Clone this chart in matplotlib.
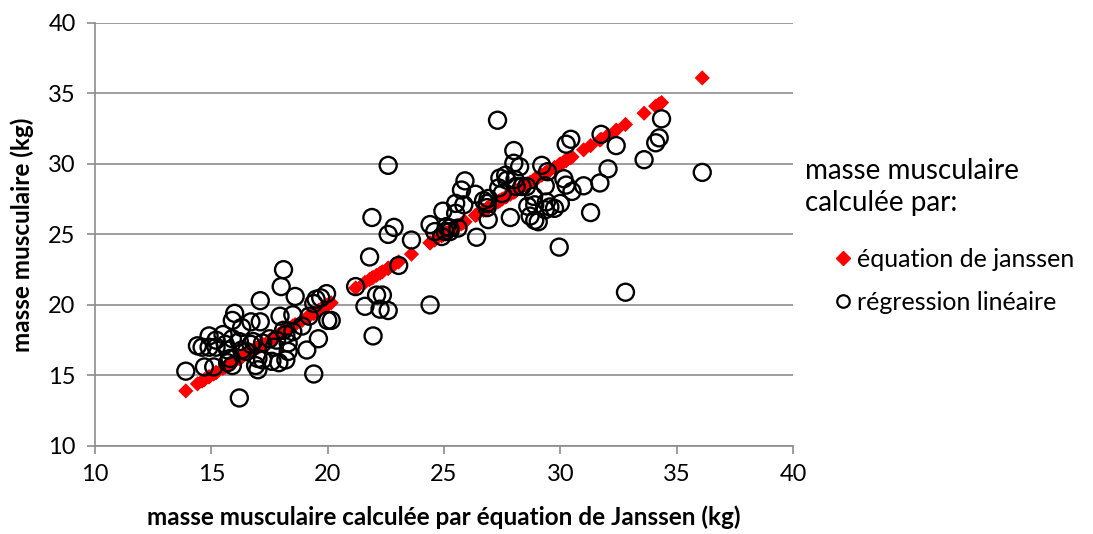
import numpy as np
import matplotlib.pyplot as plt
from matplotlib.lines import Line2D

# masse musculaire calculée par équation de Janssen (kg)
janssen = [13.9, 14.4, 14.6, 14.7, 14.9, 14.9, 15.1, 15.2, 15.2, 15.5,
           15.6, 15.7, 15.7, 15.8, 15.9, 15.9, 15.9, 16.0, 16.2, 16.2,
           16.3, 16.3, 16.5, 16.7, 16.7, 16.8, 16.9, 17.0, 17.0, 17.1,
           17.1, 17.2, 17.2, 17.5, 17.6, 17.7, 17.8, 17.9, 17.95, 18.1,
           18.0, 18.1, 18.2, 18.2, 18.3, 18.3, 18.5, 18.5, 18.6, 18.9,
           19.1, 19.2, 19.4, 19.4, 19.5, 19.6, 19.7, 19.95, 20.0, 20.15,
           21.2, 21.6, 21.8, 21.9, 21.95, 22.1, 22.25, 22.35, 22.6, 22.6,
           22.6, 22.85, 23.05, 23.6, 24.4, 24.4, 24.6,
           24.9, 24.95, 25.05, 25.1, 25.25, 25.25, 25.5, 25.5, 25.6, 25.75,
           25.85, 25.9, 26.35, 26.4, 26.7, 26.85, 26.85, 26.9, 26.9, 27.3,
           27.35, 27.4, 27.5, 27.65, 27.7, 27.85, 28.0, 28.0, 28.05, 28.1,
           28.25, 28.35, 28.55, 28.6, 28.7, 28.85, 28.9, 28.9, 29.05, 29.2,
           29.35, 29.35, 29.4, 29.45, 29.55, 29.75, 29.95, 30.0, 30.15, 30.25,
           30.25, 30.45, 30.5,
           31.0, 31.3, 31.7, 31.75, 32.05, 32.4, 32.8, 33.6, 34.1, 34.25,
           34.35, 36.1]

# masse musculaire par régression linéaire (kg)
regression = [15.3, 17.1, 17.0, 15.6, 17.0, 17.8, 15.6, 17.5, 17.0, 17.9,
              17.2, 16.8, 15.9, 16.2, 15.7, 17.6, 18.9, 19.4, 17.4, 13.4,
              18.4, 16.8, 16.7, 18.8, 17.2, 17.4, 15.7, 15.4, 16.2, 20.3,
              18.8, 17.3, 16.1, 17.6, 16.0, 17.0, 17.5, 15.9, 19.2, 22.5,
              21.3, 18.2, 16.1, 17.9, 16.7, 17.3, 19.3, 18.1, 20.6, 18.5,
              16.8, 19.2, 15.1, 20.1, 20.4, 17.6, 20.5, 20.8, 18.9, 18.9,
              21.3, 19.9, 23.4, 26.2, 17.8, 20.7, 19.7, 20.7, 19.6, 29.9,
              25.0, 25.5, 22.8, 24.6, 20.0, 25.7, 25.2,
              24.85, 26.65, 25.2, 25.55, 25.2, 25.45, 26.5, 27.2, 25.45, 28.15,
              27.1, 28.8, 27.85, 24.8, 27.4, 26.9, 27.2, 27.55, 26.05, 33.1,
              28.3, 29.0, 27.9, 29.2, 28.85, 26.2, 30.95, 30.05, 28.9, 28.4,
              29.8, 28.4, 28.4, 27.0, 26.3, 27.7, 27.1, 26.0, 25.9, 29.9,
              28.45, 26.75, 27.3, 29.45, 26.95, 26.85, 24.1, 27.2, 28.95, 28.5,
              31.4, 31.75, 28.05,
              28.45, 26.55, 28.65, 32.1, 29.65, 31.3, 20.9, 30.3, 31.5, 31.85,
              33.2, 29.4]

plt.rcParams['font.family'] = ['Lato', 'DejaVu Sans']

fig = plt.figure(figsize=(10.93, 5.34), dpi=100)
ax = fig.add_axes([0.087, 0.165, 0.6385, 0.792])

ax.scatter(janssen, janssen, marker='D', s=60, color='#ff0000',
           edgecolors='none', zorder=3, label='équation de janssen')
ax.scatter(janssen, regression, marker='o', s=150, facecolors='none',
           edgecolors='black', linewidths=1.7, zorder=4,
           label='régression linéaire')

ax.set_xlim(10, 40)
ax.set_ylim(10, 40)
ax.set_xticks(np.arange(10, 41, 5))
ax.set_yticks(np.arange(10, 41, 5))
ax.yaxis.grid(True, color='#8c8c8c', linewidth=1.2)
ax.set_axisbelow(True)
for s in ['top', 'right']:
    ax.spines[s].set_visible(False)
for s in ['left', 'bottom']:
    ax.spines[s].set_color('#8c8c8c')
    ax.spines[s].set_linewidth(1.2)
ax.tick_params(axis='both', colors='#8c8c8c', length=6, width=1.2,
               labelsize=17, labelcolor='black')
ax.tick_params(axis='x', pad=7)
ax.tick_params(axis='y', pad=8)

ax.set_xlabel('masse musculaire calculée par équation de Janssen (kg)',
              fontsize=17.5, fontweight='bold', labelpad=15)
ax.set_ylabel('masse musculaire (kg)', fontsize=17.5, fontweight='bold',
              labelpad=10)

# legend title as free text, entries indented below it
fig.text(805 / 1093, 1 - 158 / 534, 'masse musculaire\ncalculée par:',
         fontsize=20, ha='left', va='top', linespacing=1.3)

handles = [Line2D([], [], marker='D', color='#ff0000', linestyle='none',
                  markersize=7.5, label='équation de janssen'),
           Line2D([], [], marker='o', markerfacecolor='none',
                  markeredgecolor='black', markeredgewidth=1.6,
                  linestyle='none', markersize=9,
                  label='régression linéaire')]
fig.legend(handles=handles, loc='upper left',
           bbox_to_anchor=(833 / 1093, 1 - 248 / 534),
           frameon=False, fontsize=18, borderpad=0, borderaxespad=0,
           handletextpad=0.15, handlelength=0.8, labelspacing=0.8)

fig.savefig('out.png', dpi=100)
